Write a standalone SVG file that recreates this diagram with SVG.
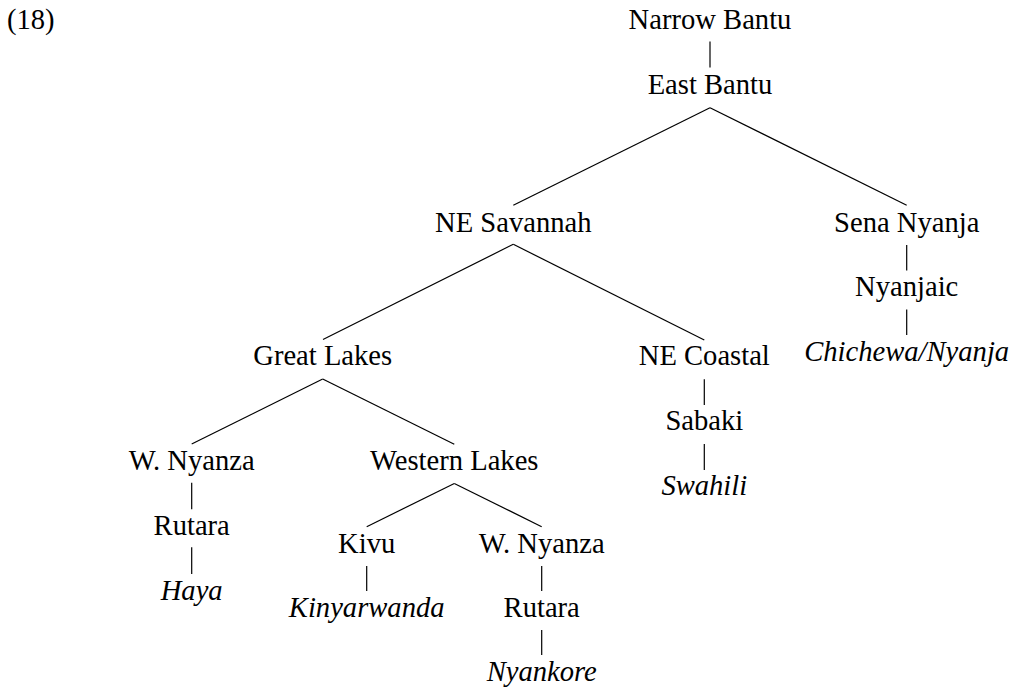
<svg xmlns="http://www.w3.org/2000/svg" width="1013" height="688" viewBox="0 0 1013 688">
<style>
.t text{font-size:28.6px;fill:#000;text-anchor:middle}
.it{font-style:italic}
.e line{stroke:#000;stroke-width:1.2;stroke-linecap:butt}
</style>
<rect width="1013" height="688" fill="#fff"/>
<g class="t" font-family="'Liberation Serif', 'Times New Roman', Times, 'DejaVu Serif', serif">
<text x="7" y="29.3" text-anchor="start" style="text-anchor:start">(18)</text>
<g id="n-narrow-bantu"><text x="710" y="29">Narrow Bantu</text></g>
<g id="n-east-bantu"><text x="710" y="94">East Bantu</text></g>
<g id="n-ne-savannah"><text x="513.3" y="231.7">NE Savannah</text></g>
<g id="n-sena-nyanja"><text x="906.7" y="231.7">Sena Nyanja</text></g>
<g id="n-nyanjaic"><text x="906.7" y="296.3">Nyanjaic</text></g>
<g id="n-chichewa"><text class="it" x="906.7" y="361">Chichewa/Nyanja</text></g>
<g id="n-great-lakes"><text x="322.7" y="365">Great Lakes</text></g>
<g id="n-ne-coastal"><text x="704.3" y="365">NE Coastal</text></g>
<g id="n-sabaki"><text x="704.3" y="430">Sabaki</text></g>
<g id="n-swahili"><text class="it" x="704.3" y="495">Swahili</text></g>
<g id="n-w-nyanza-1"><text x="191.7" y="470">W. Nyanza</text></g>
<g id="n-western-lakes"><text x="454.3" y="470">Western Lakes</text></g>
<g id="n-rutara-1"><text x="191.7" y="535">Rutara</text></g>
<g id="n-haya"><text class="it" x="191.7" y="599.5">Haya</text></g>
<g id="n-kivu"><text x="366.7" y="553">Kivu</text></g>
<g id="n-w-nyanza-2"><text x="541.7" y="553">W. Nyanza</text></g>
<g id="n-kinyarwanda"><text class="it" x="366.7" y="617">Kinyarwanda</text></g>
<g id="n-rutara-2"><text x="541.7" y="617">Rutara</text></g>
<g id="n-nyankore"><text class="it" x="541.7" y="681">Nyankore</text></g>
</g>
<g class="e" id="connectors">
<line x1="710" y1="41.5" x2="710" y2="67.5"/>
<line x1="710" y1="107.7" x2="513.3" y2="205.3"/>
<line x1="710" y1="107.7" x2="906.7" y2="205.3"/>
<line x1="513.3" y1="244.3" x2="323" y2="339.5"/>
<line x1="513.3" y1="244.3" x2="704.3" y2="340"/>
<line x1="906.7" y1="245" x2="906.7" y2="270.5"/>
<line x1="906.7" y1="309.5" x2="906.7" y2="335"/>
<line x1="322.7" y1="379" x2="191.7" y2="444"/>
<line x1="322.7" y1="379" x2="454.3" y2="444.3"/>
<line x1="704.3" y1="379.3" x2="704.3" y2="405"/>
<line x1="704.3" y1="444" x2="704.3" y2="470"/>
<line x1="191.7" y1="482.7" x2="191.7" y2="509.3"/>
<line x1="191.7" y1="547.3" x2="191.7" y2="574"/>
<line x1="454.3" y1="483.5" x2="366.7" y2="526.7"/>
<line x1="454.3" y1="483.5" x2="541.7" y2="526.7"/>
<line x1="366.7" y1="566" x2="366.7" y2="591"/>
<line x1="541.7" y1="566" x2="541.7" y2="591"/>
<line x1="541.7" y1="630" x2="541.7" y2="655"/>
</g>
</svg>
